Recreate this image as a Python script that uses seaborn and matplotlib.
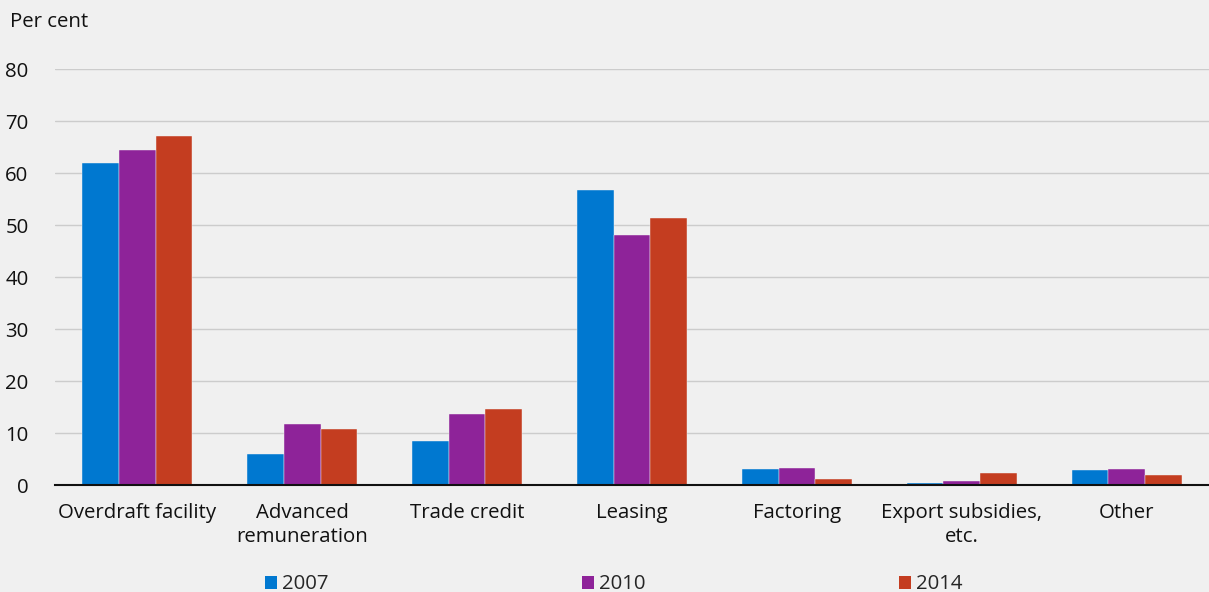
import matplotlib
matplotlib.use("Agg")
import matplotlib.pyplot as plt
import seaborn as sns
import pandas as pd
import numpy as np
from matplotlib.patches import Patch

categories = ["Overdraft facility", "Advanced\nremuneration", "Trade credit", "Leasing",
              "Factoring", "Export subsidies,\netc.", "Other"]
years = ["2007", "2010", "2014"]
v2007 = [62.0, 5.9, 8.4, 56.8, 3.1, 0.45, 2.8]
v2010 = [64.5, 11.7, 13.7, 48.1, 3.2, 0.8, 3.1]
v2014 = [67.2, 10.8, 14.6, 51.4, 1.2, 2.3, 2.0]
colors = ["#0078D0", "#8E2399", "#C43D20"]

df = pd.DataFrame({
    "category": categories * 3,
    "year": [y for y in years for _ in categories],
    "value": v2007 + v2010 + v2014,
})

sns.set_theme(style="white")
plt.rcParams["font.family"] = ["Open Sans", "DejaVu Sans"]
bg = "#F0F0F0"
fs = 14.7

fig = plt.figure(figsize=(12.09, 5.92), dpi=100, facecolor=bg)
ax = fig.add_axes([0.0455, 0.1807, 0.9545, 0.7027], facecolor=bg)

sns.barplot(data=df, x="category", y="value", hue="year", palette=colors,
            order=categories, hue_order=years, width=0.667, gap=0,
            edgecolor="#f4f4f4", linewidth=0.3, ax=ax, legend=False, saturation=1)

ax.set_ylim(0, 80)
ax.set_xlim(-0.5, len(categories) - 0.5)
ax.set_yticks(np.arange(0, 81, 10))
ax.yaxis.grid(True, color="#CCCCCC", linewidth=1)
ax.set_axisbelow(True)
for s in ["left", "right", "top"]:
    ax.spines[s].set_visible(False)
ax.spines["bottom"].set_color("#111111")
ax.spines["bottom"].set_linewidth(1.5)
ax.set_xlabel("")
ax.set_ylabel("")
ax.tick_params(axis="y", length=0, pad=19, labelsize=fs, labelcolor="#111111")
ax.tick_params(axis="x", which="major", length=0, pad=13, labelsize=fs, labelcolor="#111111")
ax.set_xticks(np.arange(-0.5, len(categories) - 0.5, 1.0), minor=True)
ax.tick_params(axis="x", which="minor", direction="in", length=6, width=1.2, color="#111111")
for lab in ax.get_xticklabels():
    lab.set_linespacing(1.27)

fig.text(0.008, 0.962, "Per cent", fontsize=fs, color="#111111", va="center", ha="left")

handles = [Patch(facecolor=c, edgecolor="none", label=y) for c, y in zip(colors, years)]
fig.legend(handles=handles, loc="center left", bbox_to_anchor=(0.219, 0.013), ncol=3,
           frameon=False, fontsize=fs, handlelength=0.6, handleheight=0.6,
           handletextpad=0.25, columnspacing=12.4, borderaxespad=0, borderpad=0)

fig.savefig("out.png", dpi=100, facecolor=bg)
